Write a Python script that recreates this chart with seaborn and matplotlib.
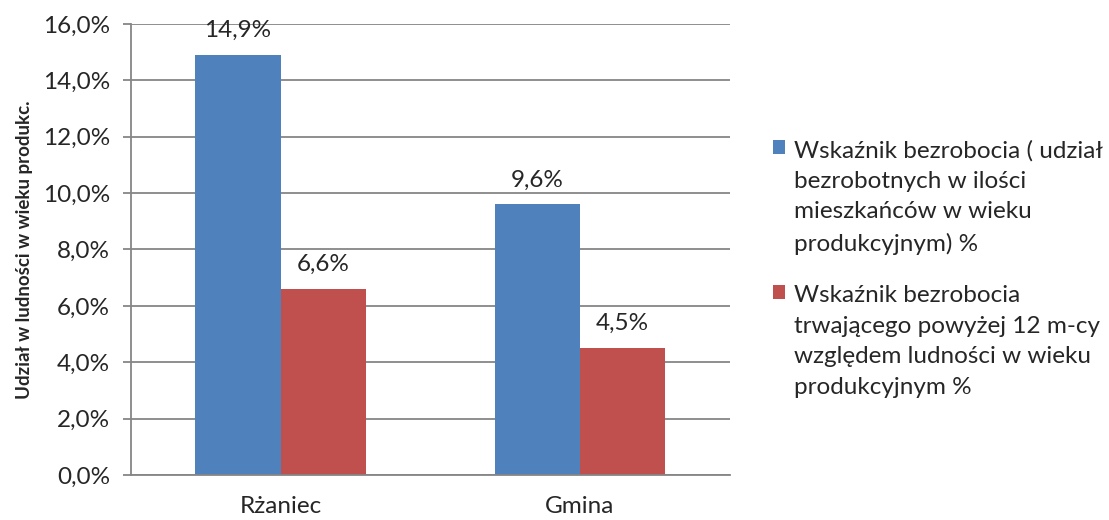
import matplotlib
matplotlib.use('Agg')
import pandas as pd
import matplotlib.pyplot as plt
import seaborn as sns
from matplotlib.ticker import FuncFormatter

# ---------------------------------------------------------------------------
# Dane
# ---------------------------------------------------------------------------
categories = ['Rżaniec', 'Gmina']
series_names = [
    'Wskaźnik bezrobocia ( udział\nbezrobotnych w ilości\nmieszkańców w wieku\nprodukcyjnym) %',
    'Wskaźnik bezrobocia\ntrwającego powyżej 12 m-cy\nwzględem ludności w wieku\nprodukcyjnym %',
]
total_rate = [14.9, 9.6]
long_term_rate = [6.6, 4.5]
y_label = 'Udział w ludności w wieku produkc.'

colors = ['#4F81BD', '#C0504D']
grid_color = '#868686'

df = pd.DataFrame({
    'kategoria': categories * 2,
    'seria': [series_names[0]] * 2 + [series_names[1]] * 2,
    'wartosc': total_rate + long_term_rate,
})


def pct(v):
    return f'{v:.1f}%'.replace('.', ',')


sns.set_style('white')
plt.rcParams['font.family'] = ['Lato', 'DejaVu Sans']

fig = plt.figure(figsize=(11.09, 5.2), dpi=100)
ax = fig.add_axes([0.118, 0.0865, 0.540, 0.8675])

sns.barplot(
    data=df, x='kategoria', y='wartosc', hue='seria',
    palette=colors, width=0.57, saturation=1, linewidth=0, ax=ax,
)

ax.set_xlim(-0.5, 1.5)
ax.set_ylim(0, 16)
ax.set_yticks(range(0, 17, 2))
ax.yaxis.set_major_formatter(FuncFormatter(lambda v, _: pct(v)))
ax.grid(axis='y', color=grid_color, linewidth=1.3)
ax.set_axisbelow(True)

for side in ['top', 'right']:
    ax.spines[side].set_visible(False)
for side in ['left', 'bottom']:
    ax.spines[side].set_color(grid_color)
    ax.spines[side].set_linewidth(1.3)

ax.tick_params(axis='y', length=6, width=1.3, color=grid_color, labelsize=17.5, pad=9, left=True)
ax.tick_params(axis='x', length=0, labelsize=17.5, pad=15)
ax.set_xlabel('')
ax.set_ylabel(y_label, fontsize=13.5, fontweight='bold', labelpad=7)

for container in ax.containers:
    ax.bar_label(container, labels=[pct(v) for v in container.datavalues],
                 padding=10, fontsize=17.5)

handles, labels = ax.get_legend_handles_labels()
ax.legend_.remove()
leg = fig.legend(
    handles, labels, loc='upper left', bbox_to_anchor=(0.697, 0.731),
    frameon=False, fontsize=17.5, handlelength=0.5, handleheight=0.5,
    handletextpad=0.37, labelspacing=1.25, borderpad=0, borderaxespad=0,
)
for t in leg.get_texts():
    t.set_linespacing(1.56)
# znacznik legendy przy pierwszej linii opisu
for col in leg._legend_handle_box.get_children():
    for row in col.get_children():
        row.align = 'top'

fig.savefig('out.png', dpi=100)
